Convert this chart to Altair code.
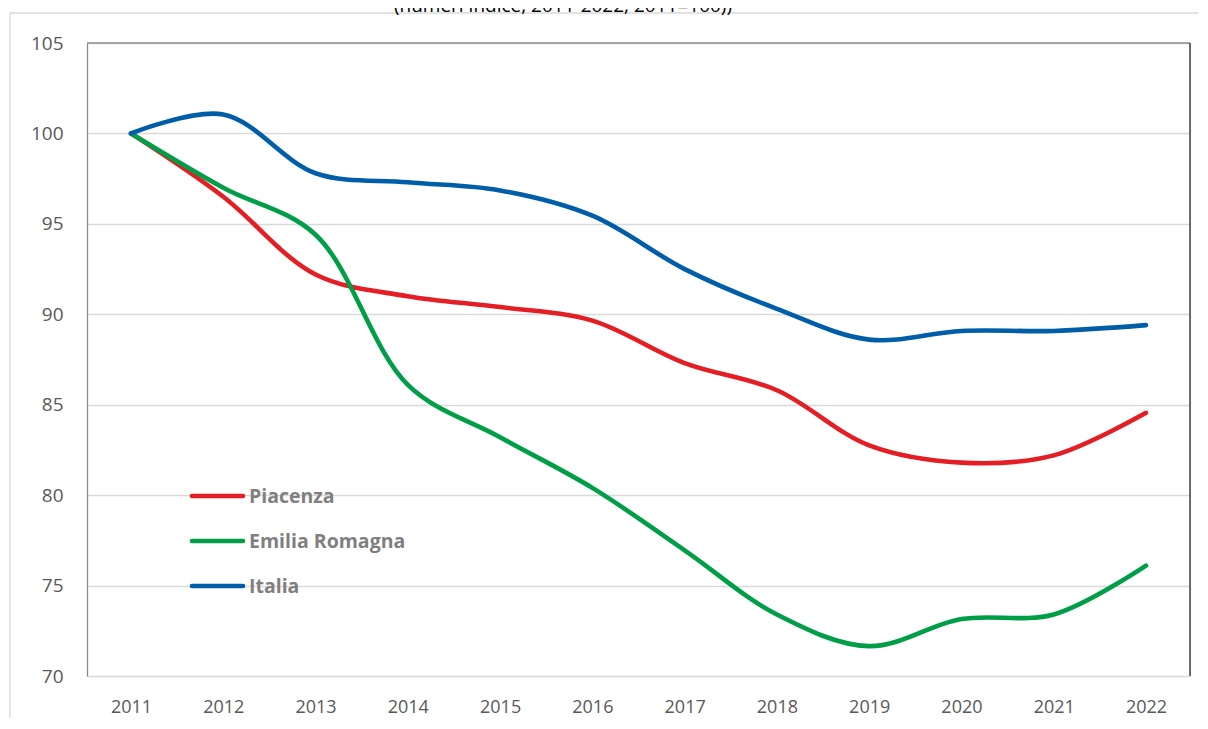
import altair as alt
import pandas as pd

years = [str(y) for y in range(2011, 2023)]
piacenza = [100, 96.5, 92.2, 91.0, 90.4, 89.65, 87.3, 85.8, 82.75, 81.8, 82.2, 84.55]
emilia = [100, 97.0, 94.4, 86.1, 83.2, 80.4, 76.95, 73.4, 71.65, 73.15, 73.4, 76.1]
italia = [100, 101.05, 97.8, 97.3, 96.85, 95.45, 92.5, 90.3, 88.6, 89.08, 89.08, 89.4]
series_names = ["Piacenza", "Emilia Romagna", "Italia"]
series_colors = ["#E31E24", "#009E47", "#005EA8"]
title_text = "(numeri indice, 2011-2022, 2011=100))"

rows = []
for name, vals in zip(series_names, [piacenza, emilia, italia]):
    for y, v in zip(years, vals):
        rows.append({"anno": y, "valore": v, "serie": name})
df = pd.DataFrame(rows)
one = pd.DataFrame({"k": [0]})

W, H = 1103, 633
FONT = "Open Sans"

color_scale = alt.Scale(domain=series_names, range=series_colors)

lines = alt.Chart(df).mark_line(strokeWidth=4.6, interpolate="catmull-rom", strokeCap="round").encode(
    x=alt.X("anno:O", scale=alt.Scale(type="point", padding=0.477),
            axis=alt.Axis(title=None, labelAngle=0, domain=False, ticks=False,
                          labelPadding=22, labelFontSize=18, labelColor="#595959",
                          labelFont=FONT, grid=False)),
    y=alt.Y("valore:Q", scale=alt.Scale(domain=[70, 105], nice=False, zero=False),
            axis=alt.Axis(title=None, values=[70, 75, 80, 85, 90, 95, 100, 105],
                          ticks=False, labelPadding=24, labelFontSize=19,
                          labelColor="#595959", labelFont=FONT,
                          domain=True, domainColor="#8C8C8C", domainWidth=1.3,
                          grid=True, gridColor="#D9D9D9", gridWidth=1.5)),
    color=alt.Color("serie:N", scale=color_scale, legend=None),
    detail="serie:N",
)

# plot borders: top and right
top_rule = alt.Chart(one).mark_rule(color="#8C8C8C", strokeWidth=1.3).encode(
    x=alt.value(0), x2=alt.value(W), y=alt.value(0))
right_rule = alt.Chart(one).mark_rule(color="#262626", strokeWidth=1.3).encode(
    x=alt.value(W), y=alt.value(0), y2=alt.value(H))

# outer chart frame (top and left edges visible)
frame_top = alt.Chart(one).mark_rule(color="#D9D9D9", strokeWidth=1.3).encode(
    x=alt.value(-77), x2=alt.value(1130), y=alt.value(-30))
frame_left = alt.Chart(one).mark_rule(color="#D9D9D9", strokeWidth=1.3).encode(
    x=alt.value(-77), y=alt.value(-30), y2=alt.value(H + 50))

title = alt.Chart(one).mark_text(fontSize=19, font=FONT, color="#000000",
                                 baseline="alphabetic", align="center").encode(
    x=alt.value(476), y=alt.value(-31), text=alt.value(title_text))

legend_layers = []
legend_y = [453, 498, 543]
for name, col, ly in zip(series_names, series_colors, legend_y):
    legend_layers.append(
        alt.Chart(one).mark_rule(color=col, strokeWidth=4.6, strokeCap="round").encode(
            x=alt.value(105), x2=alt.value(156), y=alt.value(ly)))
    legend_layers.append(
        alt.Chart(one).mark_text(fontSize=19.5, fontWeight="bold", font=FONT,
                                 color="#7F7F7F", align="left", baseline="middle").encode(
            x=alt.value(162), y=alt.value(ly + 1), text=alt.value(name)))

chart = alt.layer(frame_top, frame_left, lines, top_rule, right_rule, title, *legend_layers).properties(
    width=W, height=H,
    autosize=alt.AutoSizeParams(type="none"),
    padding={"left": 79, "top": 35, "right": 8, "bottom": 42},
).configure_view(stroke=None).configure(background="white")

chart.save("out.html", embed_options={"renderer": "svg", "actions": False})
